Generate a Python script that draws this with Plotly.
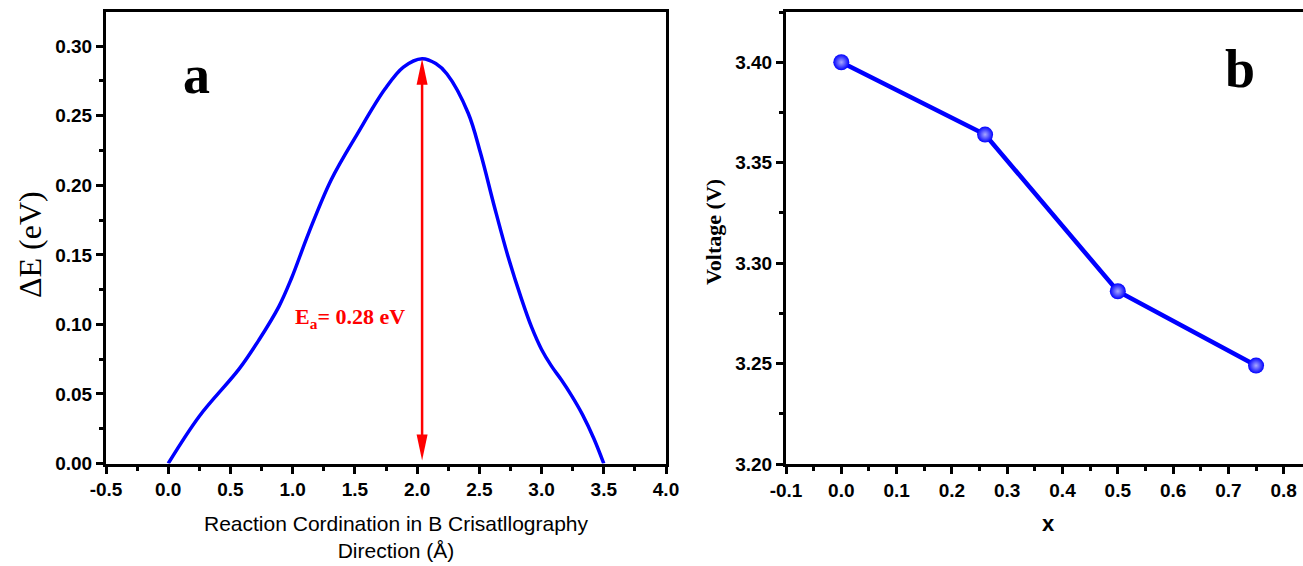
import plotly.graph_objects as go

# ---- data: panel a (energy profile) ----
coord = [0.0, 0.25, 0.57, 0.73, 0.89, 0.99, 1.13, 1.31, 1.52, 1.74, 1.89, 2.04,
         2.15, 2.24, 2.41, 2.51, 2.62, 2.73, 2.84, 2.92, 3.0, 3.08, 3.16, 3.24,
         3.33, 3.42, 3.5]
dE = [0.0, 0.034, 0.068, 0.089, 0.113, 0.133, 0.166, 0.204, 0.237, 0.269, 0.285, 0.291,
      0.2875, 0.280, 0.252, 0.223, 0.185, 0.149, 0.118, 0.098, 0.082, 0.070, 0.060, 0.049,
      0.035, 0.018, 0.0]
ea_text = "E<sub>a</sub>= 0.28 eV"
xa_ticks = [-0.5, 0.0, 0.5, 1.0, 1.5, 2.0, 2.5, 3.0, 3.5, 4.0]
xa_labels = ["-0.5", "0.0", "0.5", "1.0", "1.5", "2.0", "2.5", "3.0", "3.5", "4.0"]
ya_ticks = [0.0, 0.05, 0.10, 0.15, 0.20, 0.25, 0.30]
ya_labels = ["0.00", "0.05", "0.10", "0.15", "0.20", "0.25", "0.30"]

# ---- data: panel b (voltage) ----
xb = [0.0, 0.26, 0.5, 0.75]
voltage = [3.400, 3.364, 3.286, 3.249]
xb_ticks = [-0.1, 0.0, 0.1, 0.2, 0.3, 0.4, 0.5, 0.6, 0.7, 0.8]
xb_labels = ["-0.1", "0.0", "0.1", "0.2", "0.3", "0.4", "0.5", "0.6", "0.7", "0.8"]
yb_ticks = [3.20, 3.25, 3.30, 3.35, 3.40]
yb_labels = ["3.20", "3.25", "3.30", "3.35", "3.40"]

W, H = 1303, 566
BLUE = "#0000ff"
RED = "#ff0000"
SANS = "Liberation Sans, Arial, sans-serif"
SERIF = "Liberation Serif, Times New Roman, serif"

# pixel geometry of panels
axL = dict(l=106, r=666, t=12, b=463.5)
axR = dict(l=786, r=1303, t=12, b=464)
xrA = [-0.5, 4.0]
yrA = [0.0, 0.3246]
xrB = [-0.1, -0.1 + (axR["r"] - axR["l"]) / 553.0]
yrB = [3.20, 3.425]

def dom_x(a):
    return [a["l"] / W, a["r"] / W]

def dom_y(a):
    return [(H - a["b"]) / H, (H - a["t"]) / H]

fig = go.Figure()
fig.add_trace(go.Scatter(x=coord, y=dE, mode="lines",
                         line=dict(color=BLUE, width=3.5, shape="spline", smoothing=1.0),
                         xaxis="x", yaxis="y", showlegend=False, hoverinfo="skip"))
fig.add_trace(go.Scatter(x=xb, y=voltage, mode="lines+markers",
                         line=dict(color=BLUE, width=4.5),
                         marker=dict(size=16, color=BLUE, line=dict(width=0),
                                     gradient=dict(type="radial", color="#a8a8ff")),
                         xaxis="x2", yaxis="y2", showlegend=False))

tickfont = dict(family=SANS, size=19, color="black", weight="bold")
minor = dict(ticks="outside", ticklen=4, tickwidth=2.5, tickcolor="black")
common = dict(showline=True, linecolor="black", linewidth=3, ticks="outside",
              ticklen=7, tickwidth=3, tickcolor="black", showgrid=False,
              zeroline=False, tickfont=tickfont, automargin=False, tickmode="array")

fig.update_layout(
    width=W, height=H, margin=dict(l=0, r=0, t=0, b=0),
    paper_bgcolor="white", plot_bgcolor="white",
    xaxis=dict(domain=dom_x(axL), range=xrA, tickvals=xa_ticks, ticktext=xa_labels,
               mirror=True, anchor="y", minor=dict(dtick=0.25, tick0=0, **minor), **common),
    yaxis=dict(domain=dom_y(axL), range=yrA, tickvals=ya_ticks, ticktext=ya_labels,
               mirror=True, anchor="x", minor=dict(dtick=0.025, tick0=0, **minor), **common),
    xaxis2=dict(domain=dom_x(axR), range=xrB, tickvals=xb_ticks, ticktext=xb_labels,
                mirror=True, anchor="y2", minor=dict(dtick=0.05, tick0=0, **minor), **common),
    yaxis2=dict(domain=dom_y(axR), range=yrB, tickvals=yb_ticks, ticktext=yb_labels,
                mirror=False, anchor="x2", minor=dict(dtick=0.025, tick0=3.2, **minor), **common),
)

# ---- barrier arrow (derived from data) ----
i_peak = dE.index(max(dE))
xp, yp = coord[i_peak], dE[i_peak]
px_per_x = (axL["r"] - axL["l"]) / (xrA[1] - xrA[0])
px_per_y = (axL["b"] - axL["t"]) / (yrA[1] - yrA[0])
head_len = 26 / px_per_y
head_hw = 5.5 / px_per_x
y0 = 3 / px_per_y
fig.add_shape(type="line", xref="x", yref="y", x0=xp, x1=xp, y0=y0 + head_len * 0.5,
              y1=yp - head_len * 0.5, line=dict(color=RED, width=2.5))
fig.add_shape(type="path", xref="x", yref="y", fillcolor=RED, line=dict(width=0),
              path=f"M{xp},{yp} L{xp - head_hw},{yp - head_len} L{xp + head_hw},{yp - head_len} Z")
fig.add_shape(type="path", xref="x", yref="y", fillcolor=RED, line=dict(width=0),
              path=f"M{xp},{y0} L{xp - head_hw},{y0 + head_len} L{xp + head_hw},{y0 + head_len} Z")

fig.add_annotation(x=1.46, y=0.1046, xref="x", yref="y", text=ea_text, showarrow=False,
                   xanchor="center", yanchor="middle",
                   font=dict(family=SERIF, size=22, color=RED, weight="bold"))

# panel letters
fig.add_annotation(x=0.23, y=0.2794, xref="x", yref="y", text="a", showarrow=False,
                   xanchor="center", yanchor="middle",
                   font=dict(family=SERIF, size=54, color="black", weight="bold"))
fig.add_annotation(x=0.721, y=3.3965, xref="x2", yref="y2", text="b", showarrow=False,
                   xanchor="center", yanchor="middle",
                   font=dict(family=SERIF, size=54, color="black", weight="bold"))

# axis titles
fig.add_annotation(x=396 / W, y=(H - 537) / H, xref="paper", yref="paper",
                   text="Reaction Cordination in B Crisatllography<br>Direction (Å)",
                   showarrow=False, xanchor="center", yanchor="middle",
                   font=dict(family=SANS, size=21, color="black"))
fig.add_annotation(x=1048 / W, y=(H - 523) / H, xref="paper", yref="paper", text="x",
                   showarrow=False, xanchor="center", yanchor="middle",
                   font=dict(family=SANS, size=22, color="black", weight="bold"))
fig.add_annotation(x=30 / W, y=(H - 245) / H, xref="paper", yref="paper", text="ΔE (eV)",
                   textangle=-90, showarrow=False, xanchor="center", yanchor="middle",
                   font=dict(family=SERIF, size=32, color="black"))
fig.add_annotation(x=713 / W, y=(H - 232) / H, xref="paper", yref="paper", text="Voltage (V)",
                   textangle=-90, showarrow=False, xanchor="center", yanchor="middle",
                   font=dict(family=SERIF, size=22, color="black", weight="bold"))

fig.write_html("out.html")
